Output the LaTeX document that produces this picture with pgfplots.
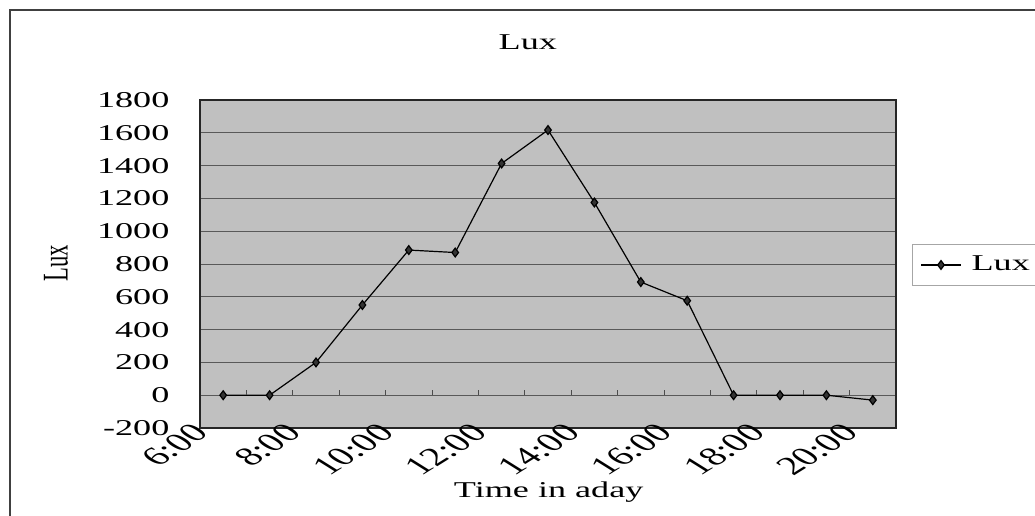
\documentclass[border=0pt]{standalone}
\usepackage{fontspec}
\setmainfont{Liberation Serif}
\usepackage{graphicx}
\usepackage{pgfplots}
\pgfplotsset{compat=1.18}
\pgfplotstableread{
x y
6.5 0
7.5 0
8.5 200
9.5 550
10.5 885
11.5 870
12.5 1413
13.5 1617
14.5 1175
15.5 690
16.5 576
17.5 0
18.5 0
19.5 0
20.5 -30
}\luxdata
\begin{document}
\begin{tikzpicture}
\useasboundingbox (0,0) rectangle (517.5pt,-257.5pt);
\fill[white] (0,0) rectangle (517.5pt,-257.5pt);
\draw[line width=0.8pt, black!75] (5pt,-260pt) -- (5pt,-5pt) -- (520pt,-5pt);
\begin{axis}[
  at={(100pt,-214pt)}, anchor=south west,
  scale only axis, width=348pt, height=164pt,
  xmin=6, xmax=21, ymin=-200, ymax=1800,
  xtick={6,8,...,20},
  xticklabels={6:00,8:00,10:00,12:00,14:00,16:00,18:00,20:00},
  ytick={-200,0,...,1800},
  /pgf/number format/assume math mode=true,
  /pgf/number format/1000 sep={},
  axis background/.style={fill={rgb,255:red,192;green,192;blue,192}},
  ymajorgrids,
  major grid style={black!65, line width=0.4pt},
  axis line style={black!85, line width=0.6pt},
  major tick length=0pt,
  tick style={draw=none},
  yticklabel style={font=\fontsize{11.3}{13}\selectfont, inner sep=0pt, xshift=-15pt, xscale=1.6, anchor=east},
  xticklabel style={font=\fontsize{13}{15}\selectfont, inner sep=0pt,
    xshift=-4.5pt, yshift=3pt, cm={1.1314,0.7071,-1.1314,0.7071,(0,0)}, anchor=north east},
  title={Lux},
  title style={font=\fontsize{11.3}{13}\selectfont, at={(axis description cs:0.471,1.116)}, anchor=base, xscale=1.6},
  xlabel={Time in aday},
  xlabel style={font=\fontsize{11.3}{13}\selectfont, at={(axis description cs:0.501,-0.2134)}, anchor=base, xscale=1.6},
  ylabel={Lux},
  every axis y label/.style={at={(axis description cs:-0.207,0.503)}, anchor=center,
    font=\fontsize{11.3}{13}\selectfont, cm={0,1,-1.6,0,(0,0)}},
  legend style={at={(axis description cs:1.023,0.497)}, anchor=west, draw=black!35, fill=white,
    font=\fontsize{11.3}{13}\selectfont, inner xsep=4pt, inner ysep=4pt, nodes={inner xsep=5pt}},
  legend cell align=left,
  legend image code/.code={\draw[mark repeat=2,mark phase=2,#1] plot coordinates {(0pt,0pt)(10pt,0pt)(20pt,0pt)};},
]
\addplot[black, line width=0.6pt, mark=diamond*, mark size=2.2pt, mark options={fill=black!80}] table[x=x,y=y]{\luxdata};
\addlegendentry{\scalebox{1.6}[1]{Lux}}
\pgfplotsinvokeforeach{7,...,20}{\draw[black!70, line width=0.4pt] (axis cs:#1,0) -- ([yshift=2.5pt]axis cs:#1,0);}
\end{axis}
\end{tikzpicture}
\end{document}
